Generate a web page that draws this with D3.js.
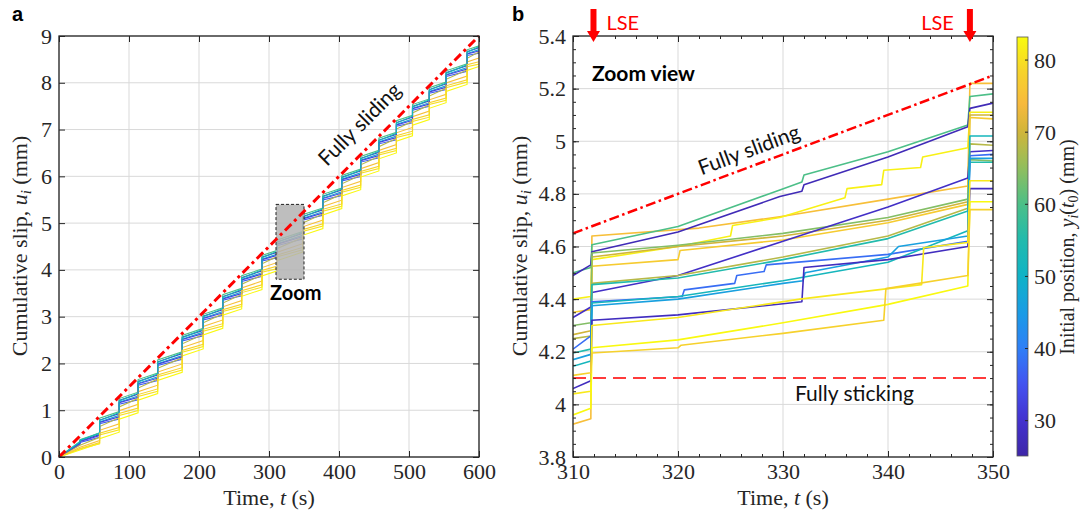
<!DOCTYPE html>
<html><head><meta charset="utf-8">
<script src="https://cdn.jsdelivr.net/npm/d3@7"></script>
<style>body{margin:0;background:#fff}</style>
</head><body>
<svg id="chart" width="1087" height="514" xmlns="http://www.w3.org/2000/svg"></svg>
<script>
// ---------------- DATA ----------------
// Panel a: large-slip-event (LSE) times and each trace's slip just before / just after each event
const eventTimesA = [30,58,86,113,141,176,206,234,261,290,312,348,377,404,431,457,482,505,529,553,583];
const endTimeA = 600;
const colorValuesA = [27,36,48,60,68,75,80,83,32,52,78];
const preSlipA = [
  [0.30,0.48,0.93,1.345,1.755,2.21,2.71,3.15,3.565,3.98,4.38,4.78,5.285,5.71,6.115,6.515,6.90,7.265,7.615,7.975,8.365],
  [0.27,0.42,0.81,1.225,1.635,2.09,2.59,3.03,3.445,3.86,4.26,4.66,5.165,5.59,5.995,6.395,6.78,7.145,7.495,7.855,8.245],
  [0.31,0.52,0.89,1.305,1.715,2.17,2.67,3.11,3.525,3.94,4.34,4.74,5.245,5.67,6.075,6.475,6.86,7.225,7.575,7.935,8.325],
  [0.33,0.51,0.97,1.385,1.795,2.25,2.75,3.19,3.605,4.02,4.42,4.82,5.325,5.75,6.155,6.555,6.94,7.305,7.655,8.015,8.405],
  [0.25,0.42,0.84,1.255,1.665,2.12,2.62,3.06,3.475,3.89,4.29,4.69,5.195,5.62,6.025,6.425,6.81,7.175,7.525,7.885,8.275],
  [0.21,0.35,0.71,1.125,1.535,1.99,2.49,2.93,3.345,3.76,4.16,4.56,5.065,5.49,5.895,6.295,6.68,7.045,7.395,7.755,8.145],
  [0.17,0.28,0.58,0.995,1.405,1.86,2.36,2.80,3.215,3.63,4.03,4.43,4.935,5.36,5.765,6.165,6.55,6.915,7.265,7.625,8.015],
  [0.15,0.29,0.53,0.945,1.355,1.81,2.31,2.75,3.165,3.58,3.98,4.38,4.885,5.31,5.715,6.115,6.50,6.865,7.215,7.575,7.965],
  [0.29,0.46,0.86,1.275,1.685,2.14,2.64,3.08,3.495,3.91,4.31,4.71,5.215,5.64,6.045,6.445,6.83,7.195,7.545,7.905,8.295],
  [0.32,0.50,0.95,1.365,1.775,2.23,2.73,3.17,3.585,4.00,4.40,4.80,5.305,5.73,6.135,6.535,6.92,7.285,7.635,7.995,8.385],
  [0.18,0.31,0.63,1.045,1.455,1.91,2.41,2.85,3.265,3.68,4.08,4.48,4.985,5.41,5.815,6.215,6.60,6.965,7.315,7.675,8.065]
];
const postSlipA = [
  [0.34,0.79,1.21,1.615,2.035,2.56,3.01,3.43,3.835,4.27,4.60,5.14,5.575,5.98,6.385,6.775,7.15,7.495,7.855,8.215,8.665],
  [0.31,0.71,1.13,1.535,1.955,2.48,2.93,3.35,3.755,4.19,4.52,5.06,5.495,5.90,6.305,6.695,7.07,7.415,7.775,8.135,8.585],
  [0.35,0.75,1.17,1.575,1.995,2.52,2.97,3.39,3.795,4.23,4.56,5.10,5.535,5.94,6.345,6.735,7.11,7.455,7.815,8.175,8.625],
  [0.37,0.83,1.25,1.655,2.075,2.60,3.05,3.47,3.875,4.31,4.64,5.18,5.615,6.02,6.425,6.815,7.19,7.535,7.895,8.255,8.705],
  [0.25,0.65,1.07,1.475,1.895,2.42,2.87,3.29,3.695,4.13,4.46,5.00,5.435,5.84,6.245,6.635,7.01,7.355,7.715,8.075,8.525],
  [0.21,0.57,0.99,1.395,1.815,2.34,2.79,3.21,3.615,4.05,4.38,4.92,5.355,5.76,6.165,6.555,6.93,7.275,7.635,7.995,8.445],
  [0.17,0.47,0.89,1.295,1.715,2.24,2.69,3.11,3.515,3.95,4.28,4.82,5.255,5.66,6.065,6.455,6.83,7.175,7.535,7.895,8.345],
  [0.15,0.39,0.81,1.215,1.635,2.16,2.61,3.03,3.435,3.87,4.20,4.74,5.175,5.58,5.985,6.375,6.75,7.095,7.455,7.815,8.265],
  [0.33,0.74,1.16,1.565,1.985,2.51,2.96,3.38,3.785,4.22,4.55,5.09,5.525,5.93,6.335,6.725,7.10,7.445,7.805,8.165,8.615],
  [0.36,0.78,1.20,1.605,2.025,2.55,3.00,3.42,3.825,4.26,4.59,5.13,5.565,5.97,6.375,6.765,7.14,7.485,7.845,8.205,8.655],
  [0.18,0.51,0.93,1.335,1.755,2.28,2.73,3.15,3.555,3.99,4.32,4.86,5.295,5.70,6.105,6.495,6.87,7.215,7.575,7.935,8.385]
];
const endSlipA = [8.75,8.63,8.71,8.79,8.66,8.53,8.40,8.35,8.68,8.77,8.45];
const fullySlidingA = [[0,0],[600,9]];
const xTicksA = [0,100,200,300,400,500,600];
const yTicksA = [0,1,2,3,4,5,6,7,8,9];
const zoomTimes = [310,350];
const zoomSlips = [3.8,5.4];

// Panel b: zoom view, each trace as [time (s), slip (mm)]
const colorValuesB = [75,60,27,82,70,77,64,29,68,55,38,52,46,28,81,83,78];
const seriesB = [
  [[310,3.925],[311.7,3.945],[311.8,4.64],[322,4.67],[330,4.715],[340,4.78],[347.6,4.83],[347.8,5.22],[350,5.22]],
  [[310,4.50],[311.7,4.52],[311.8,4.607],[320,4.676],[329.7,4.815],[331.8,4.845],[332,4.872],[340,4.96],[347.6,5.062],[347.8,5.17],[350,5.18]],
  [[310,4.49],[311.7,4.53],[311.8,4.58],[320,4.655],[329.7,4.79],[331.8,4.81],[332,4.835],[340,4.94],[347.6,5.055],[347.8,5.125],[350,5.145]],
  [[310,4.40],[311.7,4.41],[311.8,4.55],[320,4.60],[325,4.64],[325.2,4.68],[329.7,4.71],[335.9,4.785],[336.1,4.82],[339.4,4.835],[339.6,4.89],[343.1,4.90],[343.3,4.94],[347.6,4.975],[347.8,5.11],[350,5.11]],
  [[310,4.265],[311.7,4.28],[311.8,4.56],[320,4.60],[330,4.64],[340,4.70],[347.6,4.77],[347.8,5.10],[350,5.10]],
  [[310,4.35],[311.7,4.36],[311.8,4.525],[320,4.55],[320.2,4.585],[330,4.625],[340,4.69],[347.6,4.76],[347.8,5.09],[350,5.085]],
  [[310,4.30],[311.7,4.31],[311.8,4.575],[320,4.605],[330,4.65],[340,4.71],[347.6,4.78],[347.8,4.93],[350,4.925]],
  [[310,4.33],[311.7,4.37],[311.8,4.425],[320,4.49],[330,4.62],[340,4.75],[347.6,4.86],[347.8,4.96],[350,4.965]],
  [[310,4.25],[311.7,4.26],[311.8,4.46],[320,4.49],[330,4.56],[340,4.64],[347.6,4.745],[347.8,4.99],[350,4.985]],
  [[310,4.195],[311.7,4.21],[311.8,4.455],[320,4.48],[330,4.55],[340,4.63],[347.6,4.735],[347.8,4.92],[350,4.92]],
  [[310,4.21],[311.7,4.26],[311.8,4.39],[320.4,4.41],[320.6,4.435],[325.4,4.46],[325.6,4.49],[328.2,4.505],[328.4,4.53],[340,4.57],[347.6,4.62],[347.8,4.945],[350,4.95]],
  [[310,4.145],[311.7,4.165],[311.8,4.385],[320,4.41],[330,4.47],[340,4.54],[347.6,4.66],[347.8,5.02],[350,5.02]],
  [[310,4.17],[311.7,4.19],[311.8,4.375],[320,4.40],[330,4.46],[331.9,4.47],[332.1,4.50],[340,4.56],[341,4.60],[347.6,4.64],[347.8,4.935],[350,4.935]],
  [[310,4.06],[311.7,4.09],[311.8,4.32],[320,4.34],[331.8,4.39],[332,4.52],[340,4.55],[347.6,4.60],[347.8,4.82],[350,4.82]],
  [[310,4.04],[311.7,4.05],[311.8,4.30],[320,4.33],[331.6,4.40],[343.2,4.455],[343.4,4.595],[347.6,4.615],[347.8,4.85],[350,4.85]],
  [[310,3.96],[311.7,3.985],[311.8,4.215],[320,4.245],[330,4.31],[340,4.38],[347.6,4.45],[347.8,4.77],[350,4.77]],
  [[310,4.11],[311.7,4.12],[311.8,4.195],[320,4.215],[320.3,4.225],[330,4.27],[339.6,4.32],[339.8,4.44],[347.6,4.49],[347.8,4.74],[350,4.74]]
];
const fullySlidingB = [[310,4.65],[350,5.25]];
const fullyStickingB = [[310,4.1],[350,4.1]];
const lseTimes = [311.95,347.8];
const xTicksB = [310,320,330,340,350];
const yTicksB = [3.8,4,4.2,4.4,4.6,4.8,5,5.2,5.4];
const colorRange = [25.1,83.2];
const colorTicks = [30,40,50,60,70,80];

// ---------------- STYLE / SCALES ----------------
const svg = d3.select("#chart");
const INK = "#262626";
const SERIF = "'Liberation Serif', 'Times New Roman', serif";
const SANS = "Lato, 'Open Sans', sans-serif";
const parulaPos = [0,0.086,0.17,0.258,0.34,0.43,0.52,0.60,0.69,0.773,0.84,0.92,1];
const parulaCol = ["#3e26a8","#4332cf","#4452f0","#2f7ff6","#1a9be6","#0fb3c6","#23bbab","#4bbf88","#93be5c","#d0b53a","#f7b93d","#f6d42a","#f9fb0e"];
const parula = d3.scaleLinear().domain(parulaPos).range(parulaCol).interpolate(d3.interpolateRgb).clamp(true);
const cNorm = d3.scaleLinear().domain(colorRange).range([0,1]).clamp(true);
const colorOf = v => parula(cNorm(v));

const xA = d3.scaleLinear().domain([0,600]).range([59,479]);
const yA = d3.scaleLinear().domain([0,9]).range([457,36]);
const xB = d3.scaleLinear().domain([310,350]).range([573,993]);
const yB = d3.scaleLinear().domain([3.8,5.4]).range([457,36]);
const yC = d3.scaleLinear().domain(colorRange).range([456,37]);

const defs = svg.append("defs");
function clip(id, x, y){
  defs.append("clipPath").attr("id", id).append("rect")
    .attr("x", x.range()[0]).attr("y", y.range()[1])
    .attr("width", x.range()[1]-x.range()[0]).attr("height", y.range()[0]-y.range()[1]);
}
clip("clipA", xA, yA); clip("clipB", xB, yB);

function grid(g, x, y, xt, yt){
  g.selectAll(".gx").data(xt).join("line").attr("class","gx")
    .attr("x1", d=>x(d)).attr("x2", d=>x(d)).attr("y1", y.range()[0]).attr("y2", y.range()[1])
    .attr("stroke","#d9d9d9").attr("stroke-width",1);
  g.selectAll(".gy").data(yt).join("line").attr("class","gy")
    .attr("y1", d=>y(d)).attr("y2", d=>y(d)).attr("x1", x.range()[0]).attr("x2", x.range()[1])
    .attr("stroke","#d9d9d9").attr("stroke-width",1);
}
function styleAxis(g){
  g.select(".domain").remove();
  g.attr("font-family", SERIF).attr("font-size", 22);
  g.selectAll("line").attr("stroke", INK).attr("stroke-width", 1);
  g.selectAll("text").attr("fill", INK);
}
function axes(g, x, y, xt, yt, xf, yf, minorX, minorY){
  const x0 = x.range()[0], x1 = x.range()[1], y0 = y.range()[0], y1 = y.range()[1];
  if (minorX) {
    g.append("g").attr("transform",`translate(0,${y0})`).call(d3.axisBottom(x).tickValues(minorX).tickFormat("").tickSizeInner(-3).tickSizeOuter(0)).call(styleAxis);
    g.append("g").attr("transform",`translate(0,${y1})`).call(d3.axisTop(x).tickValues(minorX).tickFormat("").tickSizeInner(-3).tickSizeOuter(0)).call(styleAxis);
  }
  if (minorY) {
    g.append("g").attr("transform",`translate(${x0},0)`).call(d3.axisLeft(y).tickValues(minorY).tickFormat("").tickSizeInner(-3).tickSizeOuter(0)).call(styleAxis);
    g.append("g").attr("transform",`translate(${x1},0)`).call(d3.axisRight(y).tickValues(minorY).tickFormat("").tickSizeInner(-3).tickSizeOuter(0)).call(styleAxis);
  }
  g.append("g").attr("transform",`translate(0,${y0})`).call(d3.axisBottom(x).tickValues(xt).tickFormat(xf).tickSizeInner(-6).tickSizeOuter(0).tickPadding(6.5)).call(styleAxis);
  g.append("g").attr("transform",`translate(0,${y1})`).call(d3.axisTop(x).tickValues(xt).tickFormat("").tickSizeInner(-6).tickSizeOuter(0)).call(styleAxis);
  g.append("g").attr("transform",`translate(${x0},0)`).call(d3.axisLeft(y).tickValues(yt).tickFormat(yf).tickSizeInner(-6).tickSizeOuter(0).tickPadding(7)).call(styleAxis);
  g.append("g").attr("transform",`translate(${x1},0)`).call(d3.axisRight(y).tickValues(yt).tickFormat("").tickSizeInner(-6).tickSizeOuter(0)).call(styleAxis);
  g.append("rect").attr("x",x0).attr("y",y1).attr("width",x1-x0).attr("height",y0-y1)
    .attr("fill","none").attr("stroke",INK).attr("stroke-width",1.3);
}
function xLabel(g, x, y){
  const t = g.append("text").attr("x", x).attr("y", y).attr("text-anchor","middle")
    .attr("font-family", SERIF).attr("font-size", 22).attr("fill", INK);
  t.append("tspan").text("Time, ");
  t.append("tspan").attr("font-style","italic").text("t");
  t.append("tspan").text(" (s)");
}
function yLabel(g, x, y){
  const t = g.append("text").attr("transform",`translate(${x},${y}) rotate(-90)`).attr("text-anchor","middle")
    .attr("font-family", SERIF).attr("font-size", 22).attr("fill", INK);
  t.append("tspan").text("Cumulative slip, ");
  t.append("tspan").attr("font-style","italic").text("u");
  t.append("tspan").attr("font-style","italic").attr("font-size",15).attr("dy",4).text("i");
  t.append("tspan").attr("dy",-4).text(" (mm)");
}
const line = (x, y) => d3.line().x(d=>x(d[0])).y(d=>y(d[1]));

// ---------------- PANEL A ----------------
const gA = svg.append("g");
grid(gA, xA, yA, xTicksA, yTicksA);
const tracesA = preSlipA.map((pre, s) => {
  const pts = [[0,0]];
  eventTimesA.forEach((t, k) => { pts.push([t, pre[k]]); pts.push([t, postSlipA[s][k]]); });
  pts.push([endTimeA, endSlipA[s]]);
  return pts;
});
gA.append("g").attr("clip-path","url(#clipA)").selectAll("path").data(tracesA).join("path")
  .attr("d", line(xA, yA)).attr("fill","none")
  .attr("stroke", (d,i)=>colorOf(colorValuesA[i])).attr("stroke-width",1.1);
gA.append("rect")
  .attr("x", xA(zoomTimes[0])).attr("y", yA(zoomSlips[1]))
  .attr("width", xA(zoomTimes[1])-xA(zoomTimes[0])).attr("height", yA(zoomSlips[0])-yA(zoomSlips[1]))
  .attr("fill","#b3b3b3").attr("fill-opacity",0.85)
  .attr("stroke","#222").attr("stroke-width",1).attr("stroke-dasharray","3,2");
gA.append("path").datum(fullySlidingA).attr("d", line(xA, yA)).attr("fill","none")
  .attr("stroke","#ff0000").attr("stroke-width",3).attr("stroke-dasharray","9,4,3,4");
axes(gA, xA, yA, xTicksA, yTicksA, d3.format("d"), d3.format("d"));
xLabel(gA, 269, 505);
yLabel(gA, 27, 246);
// annotations a
{
  const ang = Math.atan2(yA(9)-yA(0), xA(600)-xA(0)) * 180/Math.PI;
  const tc = 452, uc = 9*tc/600;
  gA.append("text").attr("transform",`translate(${xA(tc)},${yA(uc)}) rotate(${ang})`)
    .attr("dy",-15).attr("text-anchor","middle").attr("font-family",SANS).attr("font-size",21)
    .attr("fill","#111").text("Fully sliding");
  gA.append("text").attr("x",270).attr("y",300).attr("font-family",SANS).attr("font-weight","bold")
    .attr("font-size",20).attr("fill","#000").text("Zoom");
  svg.append("text").attr("x",12).attr("y",21).attr("font-family","'Liberation Sans', Arial, sans-serif")
    .attr("font-weight","bold").attr("font-size",20).attr("fill","#000").text("a");
}

// ---------------- PANEL B ----------------
const gB = svg.append("g");
grid(gB, xB, yB, xTicksB, yTicksB);
gB.append("g").attr("clip-path","url(#clipB)").selectAll("path").data(seriesB).join("path")
  .attr("d", line(xB, yB)).attr("fill","none")
  .attr("stroke", (d,i)=>colorOf(colorValuesB[i])).attr("stroke-width",1.6).attr("stroke-linejoin","round");
gB.append("path").datum(fullySlidingB).attr("d", line(xB, yB)).attr("fill","none")
  .attr("stroke","#ff0000").attr("stroke-width",2.5).attr("stroke-dasharray","10,3.5,2.5,3.5");
gB.append("path").datum(fullyStickingB).attr("d", line(xB, yB)).attr("fill","none")
  .attr("stroke","#ff3b3b").attr("stroke-width",2).attr("stroke-dasharray","13,7");
const minorXB = d3.range(310, 350.001, 2);
const minorYB = d3.range(0, 33).map(i => 3.8 + i*0.05);
axes(gB, xB, yB, xTicksB, yTicksB, d3.format("d"), d => String(+d.toFixed(2)), minorXB, minorYB);
xLabel(gB, 783, 505);
yLabel(gB, 527, 246);
{
  const ang = Math.atan2(yB(5.25)-yB(4.65), xB(350)-xB(310)) * 180/Math.PI;
  const tc = 327.3, uc = 4.65 + (5.25-4.65)*(tc-310)/40;
  gB.append("text").attr("transform",`translate(${xB(tc)},${yB(uc)}) rotate(${ang})`)
    .attr("dy",-9).attr("text-anchor","middle").attr("font-family",SANS).attr("font-size",21)
    .attr("fill","#111").text("Fully sliding");
  gB.append("text").attr("x",795).attr("y",401).attr("font-family",SANS).attr("font-size",21)
    .attr("fill","#111").text("Fully sticking");
  gB.append("text").attr("x",592).attr("y",81).attr("font-family",SANS).attr("font-weight","bold")
    .attr("font-size",21).attr("fill","#000").text("Zoom view");
  // LSE arrows
  lseTimes.forEach((t, i) => {
    const x = xB(t);
    gB.append("rect").attr("x", x-3).attr("y", 9).attr("width", 6).attr("height", 24).attr("fill","#ff0000");
    gB.append("path").attr("d", `M${x-6.5},31 L${x+6.5},31 L${x},42 Z`).attr("fill","#ff0000");
    gB.append("text").attr("x", i===0 ? x+13 : x-16).attr("y", 30)
      .attr("text-anchor", i===0 ? "start" : "end")
      .attr("font-family",SANS).attr("font-size",20).attr("fill","#ff0000").text("LSE");
  });
  svg.append("text").attr("x",512).attr("y",21).attr("font-family","'Liberation Sans', Arial, sans-serif")
    .attr("font-weight","bold").attr("font-size",20).attr("fill","#000").text("b");
}

// ---------------- COLORBAR ----------------
{
  const grad = defs.append("linearGradient").attr("id","parulaGrad")
    .attr("x1","0").attr("y1","1").attr("x2","0").attr("y2","0");
  d3.range(0, 51).forEach(i => {
    grad.append("stop").attr("offset", (i/50*100)+"%").attr("stop-color", parula(i/50));
  });
  const cx = 1017, cw = 11;
  const g = svg.append("g");
  g.append("rect").attr("x",cx).attr("y",yC.range()[1]).attr("width",cw).attr("height",yC.range()[0]-yC.range()[1])
    .attr("fill","url(#parulaGrad)").attr("stroke","#555").attr("stroke-width",0.8);
  g.selectAll(".ct").data(colorTicks).join("line").attr("class","ct")
    .attr("x1",cx+cw-3).attr("x2",cx+cw).attr("y1",d=>yC(d)).attr("y2",d=>yC(d)).attr("stroke",INK);
  g.selectAll(".cl").data(colorTicks).join("text").attr("class","cl")
    .attr("x",1034).attr("y",d=>yC(d)).attr("dy","0.34em")
    .attr("font-family",SERIF).attr("font-size",22).attr("fill",INK).text(d=>d);
  const t = g.append("text").attr("transform","translate(1074,247) rotate(-90)").attr("text-anchor","middle")
    .attr("font-family",SERIF).attr("font-size",20).attr("fill",INK);
  t.append("tspan").text("Initial position, ");
  t.append("tspan").attr("font-style","italic").text("y");
  t.append("tspan").attr("font-style","italic").attr("font-size",14).attr("dy",4).text("i");
  t.append("tspan").attr("dy",-4).text("(");
  t.append("tspan").attr("font-style","italic").text("t");
  t.append("tspan").attr("font-size",14).attr("dy",4).text("0");
  t.append("tspan").attr("dy",-4).text(") (mm)");
}
</script>
</body></html>
